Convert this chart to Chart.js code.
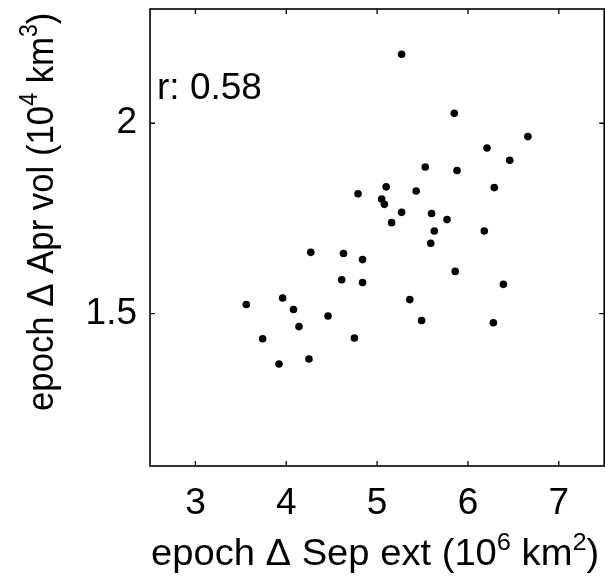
<!DOCTYPE html>
<html><head><meta charset="utf-8">
<script src="https://cdn.jsdelivr.net/npm/chart.js@4/dist/chart.umd.min.js"></script>
<style>
html,body{margin:0;padding:0;background:#fff;overflow:hidden;}
#wrap{width:605px;height:579px;overflow:hidden;position:relative;background:#fff;}
#c{position:absolute;left:0;top:0;}
</style></head><body>
<div id="wrap"><canvas id="c" width="608" height="579" style="width:608px;height:579px"></canvas></div>
<script>
// epoch Δ Sep extent (10^6 km^2)
const sepExtent = [4.79,4.27,4.63,4.84,4.61,4.84,3.56,3.96,4.08,4.46,4.14,3.74,4.75,3.92,4.25,
  5.85,6.66,6.21,6.46,5.53,5.88,5.10,5.43,6.29,5.05,5.08,5.27,5.60,5.77,5.16,5.63,6.18,5.59,5.86,6.39,5.36,5.49,6.28,5.27];
// epoch Δ Apr volume (10^4 km^3)
const aprVolume = [1.815,1.661,1.658,1.642,1.589,1.582,1.524,1.541,1.511,1.494,1.466,1.434,1.436,1.368,1.381,
  2.026,1.965,1.935,1.903,1.885,1.876,1.833,1.822,1.831,1.801,1.787,1.766,1.763,1.747,1.739,1.717,1.717,1.685,1.611,1.577,1.537,1.482,1.476,2.181];
const xTicks = [3,4,5,6,7];
const yTicks = [1.5,2];
const xRange = [2.5,7.5];
const yRange = [1.1,2.3];
const rLabel = 'r: 0.58';
const xTitle = [{t:'epoch \u0394 Sep ext (10'},{t:'6',sup:true},{t:' km'},{t:'2',sup:true},{t:')'}];
const yTitle = [{t:'epoch \u0394 Apr vol (10'},{t:'4',sup:true},{t:' km'},{t:'3',sup:true},{t:')'}];

const FONT = '"Liberation Sans", Arial, Helvetica, sans-serif';
const BASE = 36, SUP = 24, RAISE = 15;

function drawRich(ctx, parts, base, sup, raise) {
  let x = 0;
  for (const p of parts) {
    ctx.font = (p.sup ? sup : base) + 'px ' + FONT;
    ctx.fillText(p.t, x, p.sup ? -raise : 0);
    x += ctx.measureText(p.t).width;
  }
  return x;
}

const framePlugin = {
  id: 'frame',
  afterDraw(chart) {
    const ctx = chart.ctx, a = chart.chartArea;
    const xs = chart.scales.x, ys = chart.scales.y;
    ctx.save();
    ctx.strokeStyle = '#000';
    ctx.lineWidth = 1.6;
    ctx.strokeRect(a.left, a.top, a.right - a.left, a.bottom - a.top);
    ctx.lineWidth = 1.3;
    const L = 5;
    ctx.beginPath();
    for (const v of xTicks) {
      const px = xs.getPixelForValue(v);
      ctx.moveTo(px, a.bottom); ctx.lineTo(px, a.bottom - L);
      ctx.moveTo(px, a.top); ctx.lineTo(px, a.top + L);
    }
    for (const v of yTicks) {
      const py = ys.getPixelForValue(v);
      ctx.moveTo(a.left, py); ctx.lineTo(a.left + L, py);
      ctx.moveTo(a.right, py); ctx.lineTo(a.right - L, py);
    }
    ctx.stroke();
    // r label
    ctx.fillStyle = '#000';
    ctx.textAlign = 'left';
    ctx.textBaseline = 'alphabetic';
    ctx.font = '37px ' + FONT;
    ctx.fillText(rLabel, a.left + 7, 99);
    // x title
    ctx.save();
    ctx.translate(151, 565);
    ctx.scale(1.06, 1);
    drawRich(ctx, xTitle, BASE, SUP, RAISE);
    ctx.restore();
    // y title
    ctx.save();
    ctx.translate(53, 411);
    ctx.rotate(-Math.PI / 2);
    ctx.scale(0.965, 1.04);
    drawRich(ctx, yTitle, BASE, SUP, RAISE);
    ctx.restore();
    ctx.restore();
  }
};

new Chart(document.getElementById('c'), {
  type: 'scatter',
  data: {
    datasets: [{
      data: sepExtent.map((x, i) => ({x: x, y: aprVolume[i]})),
      pointRadius: 3.8,
      pointHoverRadius: 3.8,
      backgroundColor: '#000',
      borderWidth: 0
    }]
  },
  options: {
    responsive: false,
    animation: false,
    devicePixelRatio: 1,
    layout: {padding: {left: 0, top: 9, right: 2.5, bottom: 0}},
    plugins: {legend: {display: false}, tooltip: {enabled: false}},
    scales: {
      x: {
        type: 'linear', min: xRange[0], max: xRange[1],
        afterBuildTicks: s => { s.ticks = xTicks.map(v => ({value: v})); },
        afterFit: s => { s.height = 113; s.paddingLeft = 0; s.paddingRight = 0; },
        grid: {display: false, drawTicks: false},
        border: {display: false},
        ticks: {color: '#000', padding: 16, font: {family: FONT, size: 37}}
      },
      y: {
        type: 'linear', min: yRange[0], max: yRange[1],
        afterBuildTicks: s => { s.ticks = yTicks.map(v => ({value: v})); },
        afterFit: s => { s.width = 150; s.paddingTop = 0; s.paddingBottom = 0; },
        grid: {display: false, drawTicks: false},
        border: {display: false},
        ticks: {color: '#000', padding: 13, font: {family: FONT, size: 37}, callback: v => String(v)}
      }
    }
  },
  plugins: [framePlugin]
});
</script>
</body></html>
